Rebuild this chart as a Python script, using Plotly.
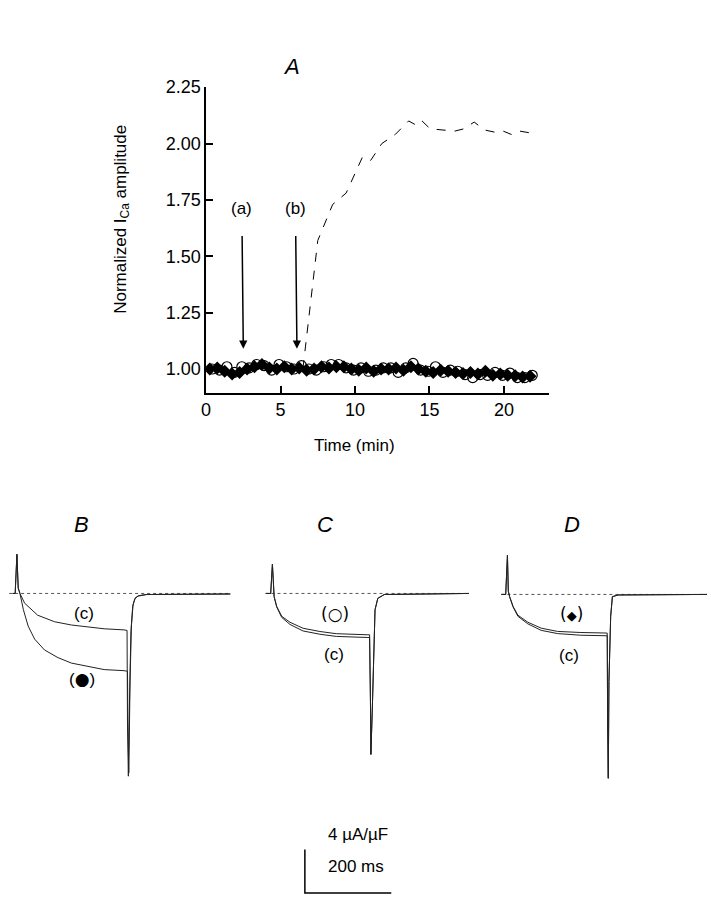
import plotly.graph_objects as go

W, H = 711, 900
FONT = "Liberation Sans, Arial, Helvetica, sans-serif"

# ---------------- Panel A data ----------------
time_diamond = [0.25, 0.75, 1.25, 1.75, 2.25, 2.75, 3.25, 3.75, 4.25, 4.75, 5.25, 5.75, 6.25, 6.75,
                7.25, 7.75, 8.25, 8.75, 9.25, 9.75, 10.25, 10.75, 11.25, 11.75, 12.25, 12.75, 13.25,
                13.75, 14.25, 14.75, 15.25, 15.75, 16.25, 16.75, 17.25, 17.75, 18.25, 18.75, 19.25,
                19.75, 20.25, 20.75, 21.25, 21.75]
amp_diamond = [1.00, 1.005, 0.99, 0.978, 0.985, 1.00, 1.01, 1.02, 1.005, 1.00, 1.01, 1.00, 1.005, 0.995,
               1.00, 1.01, 1.005, 1.01, 1.01, 1.00, 0.995, 1.005, 0.99, 1.00, 1.00, 1.005, 0.995,
               1.01, 1.00, 0.99, 0.985, 0.995, 0.99, 0.985, 0.98, 0.985, 0.978, 0.99, 0.972,
               0.978, 0.972, 0.97, 0.965, 0.968]
time_circle = [0.4, 0.9, 1.4, 1.9, 2.4, 2.9, 3.4, 3.9, 4.4, 4.9, 5.4, 5.9, 6.4, 6.9, 7.4, 7.9, 8.4,
               8.9, 9.4, 9.9, 10.4, 10.9, 11.4, 11.9, 12.4, 12.9, 13.4, 13.9, 14.4, 14.9, 15.4, 15.9,
               16.4, 16.9, 17.4, 17.9, 18.4, 18.9, 19.4, 19.9, 20.4, 20.9, 21.4, 21.9]
amp_circle = [1.00, 0.995, 1.01, 0.985, 1.01, 1.005, 1.02, 1.015, 0.995, 1.02, 1.01, 1.00, 1.015, 1.00,
              0.995, 1.01, 1.02, 1.02, 1.005, 0.995, 1.005, 0.99, 0.995, 1.005, 1.005, 0.985, 1.005,
              1.025, 0.995, 0.99, 1.01, 0.985, 0.995, 0.99, 0.975, 0.962, 0.975, 0.972, 0.985, 0.972,
              0.982, 0.962, 0.962, 0.972]
time_dashed = [6.5, 7.5, 8.5, 9.4, 10.5, 11.05, 11.8, 12.7, 13.6, 14.15, 14.5, 15.05, 16.7, 17.3,
               18.0, 18.7, 19.4, 19.95, 20.5, 21.05, 21.95]
amp_dashed = [1.00, 1.57, 1.73, 1.78, 1.94, 1.925, 2.00, 2.04, 2.10, 2.08, 2.10, 2.065, 2.055, 2.065,
              2.095, 2.06, 2.05, 2.055, 2.04, 2.055, 2.045]
x_ticks = [0, 5, 10, 15, 20]
y_ticks = [1.00, 1.25, 1.50, 1.75, 2.00, 2.25]
arrow_times = [2.5, 6.1]
arrow_labels = ["(a)", "(b)"]

# ---------------- Panels B, C, D current traces (ms, µA/µF) ----------------
B_t_c = [-10, -4, 0, 3, 7, 18, 48, 87, 126, 163, 202, 248, 255, 256, 258, 261, 264, 268, 273, 280, 300, 494]
B_i_c = [0, 0, 3.6, 0.5, 0, -0.9, -2.0, -2.6, -2.9, -3.1, -3.25, -3.35, -3.4, -12, -16.8, -9, -3.5,
         -1.2, -0.5, -0.25, -0.1, -0.05]
B_t_fill = [-10, -4, 0, 3, 7, 15, 26, 41, 64, 95, 126, 164, 202, 248, 256, 257, 259, 262, 265, 269,
            274, 282, 300, 494]
B_i_fill = [0, 0, 3.6, 0.5, 0, -1.5, -3.0, -4.2, -5.2, -5.9, -6.4, -6.7, -7.0, -7.1, -7.15, -12,
            -16.5, -8, -3, -1.0, -0.4, -0.2, -0.1, -0.05]
B_base = [-18, 494]

C_t = [-15, -4, 0, 3, 4, 10, 21.5, 40.7, 71, 110, 148, 221, 225, 227, 228, 231, 234, 237.6, 244, 259, 455]
C_i_open = [0, 0, 2.7, 0.3, -0.3, -1.2, -2.1, -2.65, -3.2, -3.5, -3.7, -3.8, -3.8, -10, -14.8, -11,
            -6.4, -1.5, -0.45, -0.1, 0]
C_i_c = [0, 0, 2.7, 0.3, -0.3, -1.25, -2.2, -2.85, -3.45, -3.75, -3.95, -4.05, -4.05, -10, -14.8, -11,
         -6.4, -1.5, -0.45, -0.1, 0]
C_base = [-16, 455]

D_t = [-14, -4, 0, 2, 5, 13, 24, 47, 78, 116, 170, 228, 231, 232, 233.5, 235, 239, 243, 257, 462]
D_i_dia = [0, 0, 3.6, 0.3, -0.2, -1.1, -1.9, -2.55, -3.1, -3.4, -3.5, -3.55, -3.55, -12, -16.9, -8,
           -2, -0.2, -0.05, 0]
D_i_c = [0, 0, 3.6, 0.3, -0.2, -1.15, -2.0, -2.7, -3.3, -3.6, -3.75, -3.8, -3.8, -12, -16.9, -8,
         -2, -0.2, -0.05, 0]
D_base = [-14, 462]

scale_t = [0, 0, 200]
scale_i = [4, 0, 0]

# ---------------- geometry helpers ----------------
ST = 0.435   # px per ms
SI = 11.0    # px per µA/µF


def dx(px0, r, s):
    return [(px0 + r[0] * s) / W, (px0 + r[1] * s) / W]


def dy(py0, r, s):
    return [1 - (py0 - r[0] * s) / H, 1 - (py0 - r[1] * s) / H]


def px(x):
    return x / W


def py(y):
    return 1 - y / H


fig = go.Figure()

# Panel A
fig.add_trace(go.Scatter(x=time_dashed, y=amp_dashed, mode="lines",
                         line=dict(color="black", width=1, dash="dash"), xaxis="x", yaxis="y"))
fig.add_trace(go.Scatter(x=time_circle, y=amp_circle, mode="markers",
                         marker=dict(symbol="circle-open", size=10, color="black", line=dict(width=1.2)),
                         xaxis="x", yaxis="y"))
fig.add_trace(go.Scatter(x=time_diamond, y=amp_diamond, mode="markers",
                         marker=dict(symbol="diamond", size=10, color="black"),
                         xaxis="x", yaxis="y"))

tr = dict(mode="lines", line=dict(color="#222", width=1))
dot = dict(mode="lines", line=dict(color="#555", width=1, dash="dot"))
# Panel B
fig.add_trace(go.Scatter(x=B_base, y=[0, 0], xaxis="x2", yaxis="y2", **dot))
fig.add_trace(go.Scatter(x=B_t_c, y=B_i_c, xaxis="x2", yaxis="y2", **tr))
fig.add_trace(go.Scatter(x=B_t_fill, y=B_i_fill, xaxis="x2", yaxis="y2", **tr))
# Panel C
fig.add_trace(go.Scatter(x=C_base, y=[0, 0], xaxis="x3", yaxis="y3", **dot))
fig.add_trace(go.Scatter(x=C_t, y=C_i_open, xaxis="x3", yaxis="y3", **tr))
fig.add_trace(go.Scatter(x=C_t, y=C_i_c, xaxis="x3", yaxis="y3", **tr))
# Panel D
fig.add_trace(go.Scatter(x=D_base, y=[0, 0], xaxis="x4", yaxis="y4", **dot))
fig.add_trace(go.Scatter(x=D_t, y=D_i_dia, xaxis="x4", yaxis="y4", **tr))
fig.add_trace(go.Scatter(x=D_t, y=D_i_c, xaxis="x4", yaxis="y4", **tr))
# Scale bar
fig.add_trace(go.Scatter(x=scale_t, y=scale_i, mode="lines", line=dict(color="black", width=1.5),
                         xaxis="x5", yaxis="y5"))

hidden = dict(visible=False, showgrid=False, zeroline=False, fixedrange=True)
yr = [-17.5, 4.5]
fig.update_layout(
    width=W, height=H, margin=dict(l=0, r=0, t=0, b=0),
    paper_bgcolor="white", plot_bgcolor="white", showlegend=False,
    font=dict(family=FONT, size=17, color="black"),
    xaxis=dict(domain=[202.5 / W, 547.5 / W], range=[0, 23], showline=True, linecolor="black",
               linewidth=1.5, ticks="inside", ticklen=7, tickwidth=1.5, tickcolor="black",
               tickvals=x_ticks, showgrid=False, zeroline=False, anchor="y",
               tickfont=dict(size=18, family=FONT)),
    yaxis=dict(domain=[py(387), py(78)], range=[0.895, 2.25], showline=True, linecolor="black",
               linewidth=1.5, ticks="inside", ticklen=7, tickwidth=1.5, tickcolor="black",
               tickvals=y_ticks, tickformat=".2f", showgrid=False, zeroline=False, anchor="x",
               tickfont=dict(size=18, family=FONT)),
    xaxis2=dict(domain=dx(12, [-25, 500], ST), range=[-25, 500], anchor="y2", **hidden),
    yaxis2=dict(domain=dy(590, yr, SI), range=yr, anchor="x2", **hidden),
    xaxis3=dict(domain=dx(269.3, [-25, 470], ST), range=[-25, 470], anchor="y3", **hidden),
    yaxis3=dict(domain=dy(590, yr, SI), range=yr, anchor="x3", **hidden),
    xaxis4=dict(domain=dx(506, [-20, 470], ST), range=[-20, 470], anchor="y4", **hidden),
    yaxis4=dict(domain=dy(591, yr, SI), range=yr, anchor="x4", **hidden),
    xaxis5=dict(domain=dx(302, [-5, 205], ST), range=[-5, 205], anchor="y5", **hidden),
    yaxis5=dict(domain=dy(893, [-0.3, 4.3], SI), range=[-0.3, 4.3], anchor="x5", **hidden),
)

ann = []
# arrows with their labels at the tail
for t, lab in zip(arrow_times, arrow_labels):
    ann.append(dict(x=t, y=1.09, ax=t - 0.1, ay=1.71, xref="x", yref="y", axref="x", ayref="y",
                    showarrow=True, arrowhead=2, arrowsize=1.1, arrowwidth=1.5, arrowcolor="black",
                    startstandoff=16, text=lab, font=dict(size=17, family=FONT)))


def txt(x, y, s, size=17, italic=False, family=FONT):
    t = f"<i>{s}</i>" if italic else s
    return dict(x=px(x), y=py(y), xref="paper", yref="paper", text=t, showarrow=False,
                xanchor="center", yanchor="middle", font=dict(size=size, family=family))


ann += [
    txt(289, 57, "A", 22, True),
    txt(352, 440, "Time (min)", 17),
    dict(x=px(117), y=py(212), xref="paper", yref="paper", text="Normalized I<sub>Ca</sub> amplitude",
         showarrow=False, textangle=-90, xanchor="center", yanchor="middle",
         font=dict(size=17, family=FONT)),
    txt(77, 520, "B", 22, True),
    txt(322, 520, "C", 22, True),
    txt(571, 520, "D", 22, True),
    txt(80, 610, "(c)", 17),
    txt(78, 677, "(<span style='font-family:DejaVu Sans'>●</span>)", 17),
    txt(332, 611, "(○)", 17, family="DejaVu Sans, " + FONT),
    txt(331, 652, "(c)", 17),
    txt(571, 611, "(<span style='font-size:13px'>◆</span>)", 17, family="DejaVu Sans, " + FONT),
    txt(568, 653, "(c)", 17),
    txt(355, 834, "4 µA/µF", 17),
    txt(353, 866, "200 ms", 17),
]
fig.update_layout(annotations=ann)

fig.write_html("out.html", config={"displayModeBar": False},
               post_script="document.body.style.margin='0px';")
